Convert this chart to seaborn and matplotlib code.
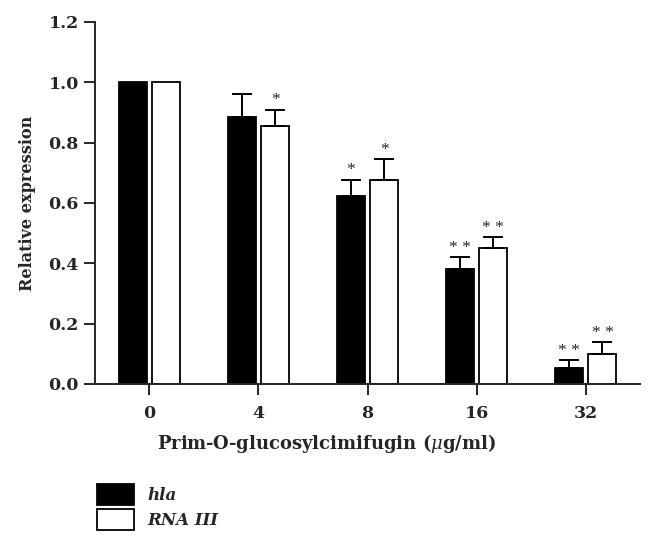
import numpy as np
import pandas as pd
import seaborn as sns
import matplotlib.pyplot as plt
from matplotlib.patches import Patch

# =========================================================
# DATA
# =========================================================

doses = ["0", "4", "8", "16", "32"]
genes = ["hla", "RNA III"]

hla_mean = [1.0, 0.885, 0.622, 0.380, 0.052]
hla_err = [0.0, 0.076, 0.055, 0.041, 0.028]
hla_sig = ["", "", "*", "* *", "* *"]

rna_mean = [1.0, 0.855, 0.677, 0.451, 0.099]
rna_err = [0.0, 0.054, 0.068, 0.036, 0.040]
rna_sig = ["", "*", "*", "* *", "* *"]

df = pd.DataFrame({
    "dose": doses * 2,
    "gene": [genes[0]] * 5 + [genes[1]] * 5,
    "value": hla_mean + rna_mean,
})

# =========================================================
# PLOT
# =========================================================

sns.set_style("ticks")
plt.rcParams["font.family"] = ["DejaVu Serif"]
plt.rcParams["mathtext.fontset"] = "dejavuserif"

fig = plt.figure(figsize=(6.54, 5.47), dpi=100)
ax = fig.add_axes([0.145, 0.298, 0.834, 0.662])

sns.barplot(
    data=df,
    x="dose",
    y="value",
    hue="gene",
    order=doses,
    hue_order=genes,
    palette={"hla": "black", "RNA III": "white"},
    edgecolor="black",
    linewidth=1.3,
    width=0.615,
    gap=0.165,
    errorbar=None,
    legend=False,
    ax=ax,
)

# error bars (upper only) and significance marks
bars = ax.patches
means = hla_mean + rna_mean
errs = hla_err + rna_err
sigs = hla_sig + rna_sig

for bar, m, e, s in zip(bars, means, errs, sigs):
    xc = bar.get_x() + bar.get_width() / 2
    if e > 0:
        ax.errorbar(
            xc, m,
            yerr=[[0], [e]],
            color="black",
            elinewidth=1.4,
            capsize=7,
            capthick=1.4,
        )
    if s:
        ax.text(
            xc, m + e + 0.004, s,
            ha="center", va="bottom",
            fontsize=12.5,
            family="Liberation Serif",
        )

ax.set_xlim(-0.5, 4.5)
ax.set_ylim(0, 1.2)
ax.set_yticks([0.0, 0.2, 0.4, 0.6, 0.8, 1.0, 1.2])
ax.set_yticklabels([f"{v:.1f}" for v in ax.get_yticks()])

ax.tick_params(axis="both", length=8, width=1.4, labelsize=12.5)
ax.tick_params(axis="x", pad=7)
for lab in ax.get_xticklabels() + ax.get_yticklabels():
    lab.set_fontweight("bold")

for side in ["left", "bottom"]:
    ax.spines[side].set_linewidth(1.4)
sns.despine(ax=ax)

ax.set_xlabel(
    "Prim-O-glucosylcimifugin ($\\mu$g/ml)",
    fontsize=13, fontweight="bold", labelpad=7,
)
ax.xaxis.label.set_x(0.424)
ax.set_ylabel("Relative expression", fontsize=11.6, fontweight="bold", labelpad=9)

# legend below the plot
handles = [
    Patch(facecolor="black", edgecolor="black", linewidth=1.3),
    Patch(facecolor="white", edgecolor="black", linewidth=1.3),
]
fig.legend(
    handles,
    genes,
    loc="upper left",
    bbox_to_anchor=(0.125, 0.142),
    frameon=False,
    handlelength=2.25,
    handleheight=1.55,
    handletextpad=0.8,
    labelspacing=0.25,
    prop={"family": "DejaVu Serif", "style": "italic", "weight": "bold", "size": 12},
)

plt.savefig("out.png", dpi=100)
